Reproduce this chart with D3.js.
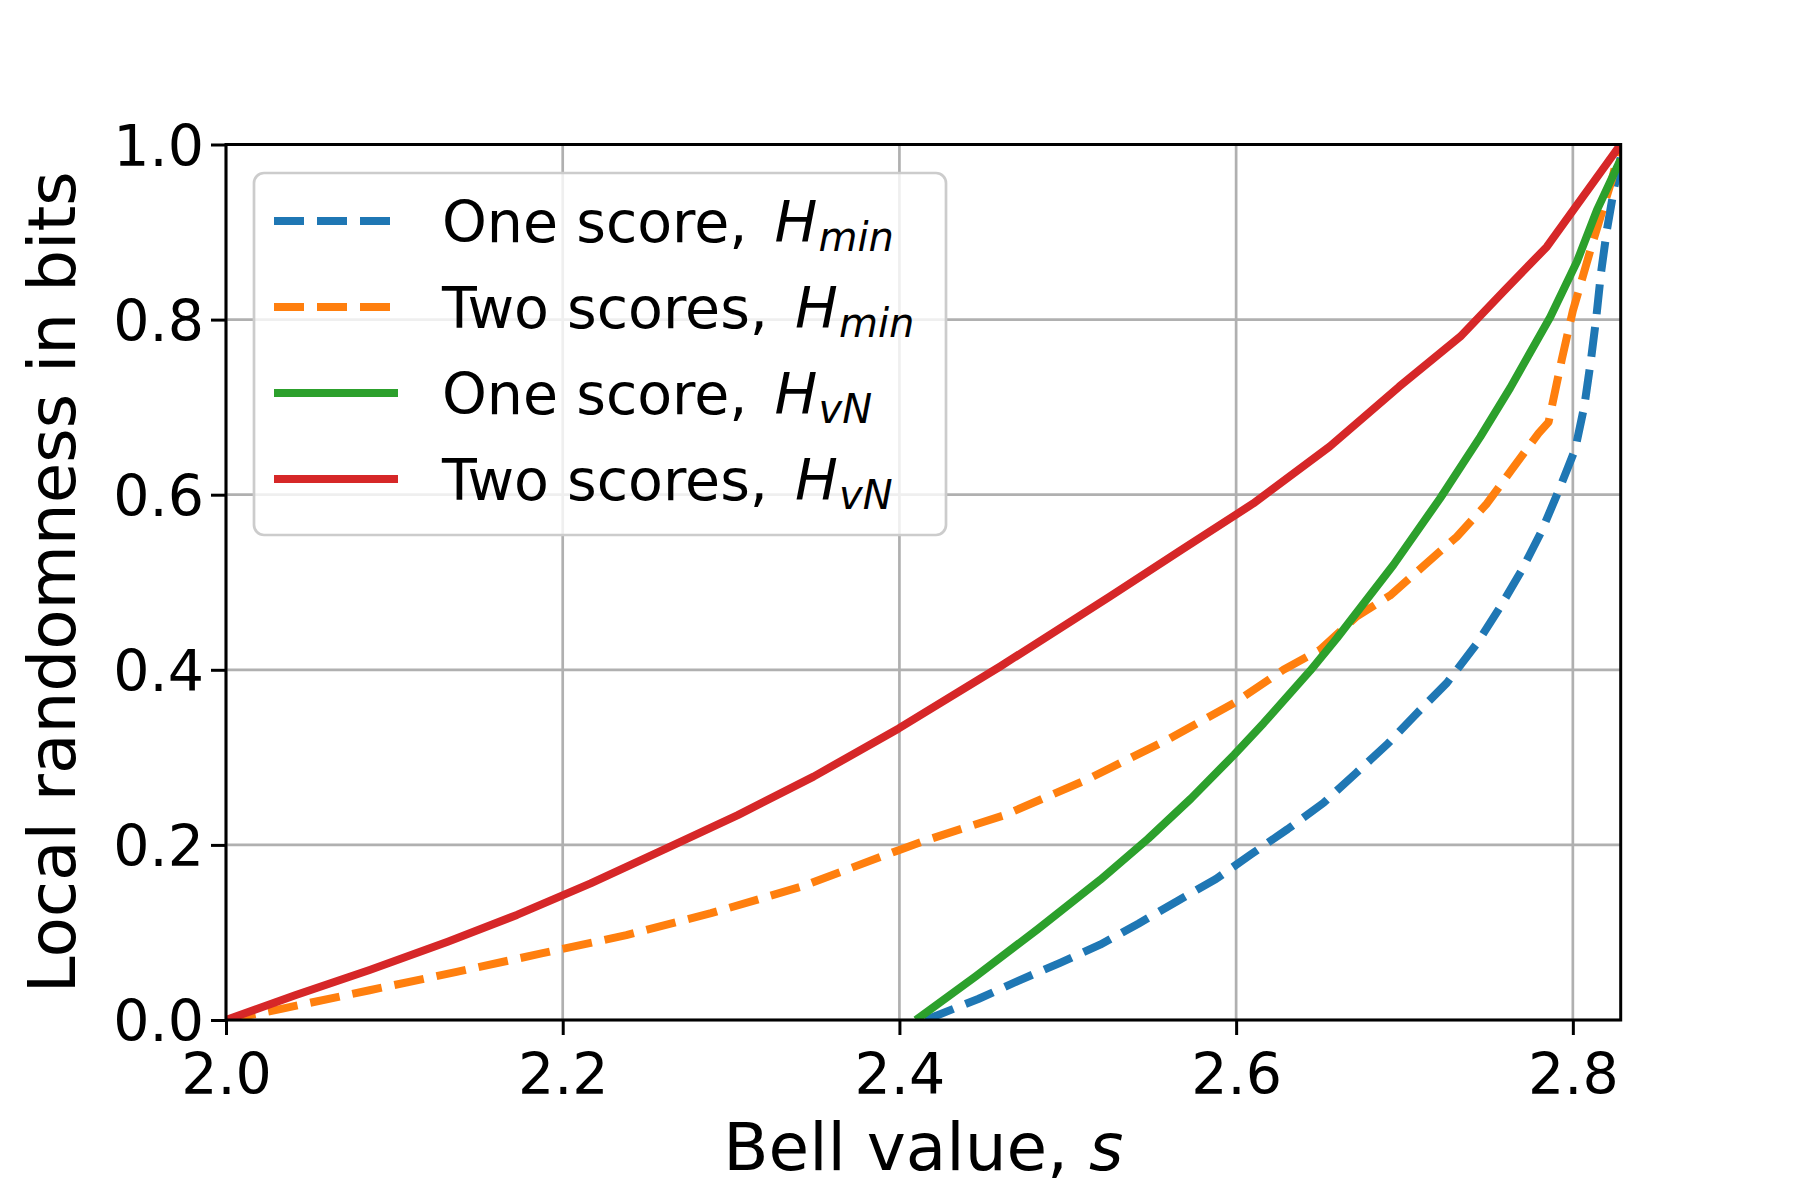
<!DOCTYPE html>
<html>
<head>
<meta charset="utf-8">
<script src="https://cdnjs.cloudflare.com/ajax/libs/d3/7.8.5/d3.min.js"></script>
<style>
  body { margin: 0; background: #fff; }
  text { font-family: "DejaVu Sans", sans-serif; white-space: pre; }
</style>
</head>
<body>
<div id="chart"></div>
<script>
(function() {
  // values, [s, bits]
  var oneScoreMin = [[2.4155,0],[2.4468,0.024],[2.4709,0.045],[2.4951,0.065],[2.5192,0.086],[2.5419,0.110],
    [2.5652,0.136],[2.588,0.161],[2.6087,0.189],[2.6306,0.218],[2.6519,0.248],[2.6712,0.282],[2.6903,0.316],
    [2.7054,0.3465],[2.7252,0.385],[2.743,0.430],[2.7569,0.472],[2.7697,0.514],[2.7816,0.559],[2.7921,0.607],
    [2.8014,0.652],[2.8068,0.701],[2.8107,0.753],[2.8139,0.802],[2.8167,0.853],[2.8202,0.902],[2.8246,0.951],
    [2.8284,0.985]]

  var twoScoresMin = [[2.0,0],[2.0336,0.013],[2.0853,0.034],[2.137,0.055],[2.1874,0.076],[2.2378,0.097],
    [2.2881,0.122],[2.3412,0.152],[2.3996,0.194],[2.4169,0.206],[2.4624,0.234],[2.5107,0.274],[2.559,0.320],
    [2.5988,0.362],[2.6281,0.400],[2.6499,0.423],[2.6717,0.461],[2.6915,0.485],[2.7133,0.522],[2.7311,0.552],
    [2.749,0.590],[2.7638,0.629],[2.7796,0.670],[2.7856,0.683],[2.7935,0.755],[2.8,0.810],[2.8113,0.885],
    [2.8232,0.960],[2.8284,1.0]]

  var oneScoreVN = [[2.4098,0],[2.4454,0.050],[2.4823,0.104],[2.5192,0.160],[2.5477,0.207],[2.5732,0.253],
    [2.5988,0.303],[2.6163,0.339],[2.644,0.399],[2.6598,0.436],[2.6935,0.520],[2.7212,0.596],[2.745,0.666],
    [2.7628,0.722],[2.7866,0.803],[2.8024,0.866],[2.8143,0.925],[2.8284,0.983]]

  var twoScoresVN = [[2.0,0],[2.0415,0.0286],[2.0853,0.0571],[2.1317,0.0894],[2.1728,0.120],[2.2166,0.156],
    [2.2616,0.196],[2.304,0.234],[2.349,0.278],[2.3996,0.333],[2.4596,0.4035],[2.5249,0.4835],[2.5675,0.537],
    [2.6102,0.590],[2.6556,0.655],[2.6968,0.7234],[2.7331,0.7805],[2.7588,0.832],[2.7846,0.8833],[2.8284,1.0]]

  var labels = ["One score, ", "Two scores, ", "One score, ", "Two scores, "]
  var subscripts = ["min", "min", "vN", "vN"]
  var xTicks = [2.0, 2.2, 2.4, 2.6, 2.8]
  var yTicks = [0.0, 0.2, 0.4, 0.6, 0.8, 1.0]

  var colors = ["#1f77b4", "#ff7f0e", "#2ca02c", "#d62728"]
  var dashed = [true, true, false, false]
  var allValues = [oneScoreMin, twoScoresMin, oneScoreVN, twoScoresVN]

  var width = 1800,
      height = 1200,
      left = 226, right = 1620.7, top = 144.5, bottom = 1020

  var svg = d3.select("#chart")
    .append("svg")
    .attr("width", width)
    .attr("height", height)

  svg.append("rect").attr("width", width).attr("height", height).attr("fill", "#fff")

  var x = d3.scaleLinear().domain([2, 2 * Math.SQRT2]).range([left, right])
  var y = d3.scaleLinear().domain([0, 1]).range([bottom, top])

  svg.append("defs").append("clipPath")
    .attr("id", "plot-clip")
    .append("rect")
    .attr("x", left).attr("y", top)
    .attr("width", right - left).attr("height", bottom - top)

  // grid
  var grid = svg.append("g")
  grid.selectAll(".gx").data(xTicks).enter().append("line")
    .attr("x1", function(d) { return x(d) }).attr("x2", function(d) { return x(d) })
    .attr("y1", top).attr("y2", bottom)
    .attr("stroke", "#b0b0b0").attr("stroke-width", 2.7)
  grid.selectAll(".gy").data(yTicks).enter().append("line")
    .attr("y1", function(d) { return y(d) }).attr("y2", function(d) { return y(d) })
    .attr("x1", left).attr("x2", right)
    .attr("stroke", "#b0b0b0").attr("stroke-width", 2.7)

  var line = d3.line()
    .x(function(d) { return x(d[0]) })
    .y(function(d) { return y(d[1]) })

  svg.append("g")
    .attr("clip-path", "url(#plot-clip)")
    .selectAll("path")
    .data(allValues)
    .enter().append("path")
    .attr("d", line)
    .attr("fill", "none")
    .attr("stroke", function(d, i) { return colors[i] })
    .attr("stroke-width", 8)
    .attr("stroke-linejoin", "round")
    .attr("stroke-dasharray", function(d, i) { return dashed[i] ? "30,13" : null })

  // axes
  var xAxis = svg.append("g")
    .attr("transform", "translate(0," + bottom + ")")
    .call(d3.axisBottom(x).tickValues(xTicks).tickSize(15).tickPadding(19).tickFormat(d3.format(".1f")))
  var yAxis = svg.append("g")
    .attr("transform", "translate(" + left + ",0)")
    .call(d3.axisLeft(y).tickValues(yTicks).tickSize(15).tickPadding(7).tickFormat(d3.format(".1f")))

  ;[xAxis, yAxis].forEach(function(a) {
    a.select(".domain").remove()
    a.selectAll(".tick line").attr("stroke", "#000").attr("stroke-width", 3)
    a.selectAll(".tick text")
      .attr("font-size", 57)
      .attr("font-family", "DejaVu Sans")
      .attr("fill", "#000")
  })
  yAxis.selectAll(".tick text").attr("dy", "0.36em")

  svg.append("rect")
    .attr("x", left).attr("y", top)
    .attr("width", right - left).attr("height", bottom - top)
    .attr("fill", "none").attr("stroke", "#000").attr("stroke-width", 3)

  var xLabel = svg.append("text")
    .attr("x", (left + right) / 2).attr("y", 1170)
    .attr("text-anchor", "middle").attr("font-size", 66)
  xLabel.append("tspan").text("Bell value, ")
  xLabel.append("tspan").attr("font-style", "italic").text("s")

  svg.append("text")
    .attr("transform", "translate(75," + (top + bottom) / 2 + ") rotate(-90)")
    .attr("text-anchor", "middle").attr("font-size", 66)
    .text("Local randomness in bits")

  // legend
  var legend = svg.append("g")
  legend.append("rect")
    .attr("x", 254).attr("y", 173).attr("width", 692).attr("height", 362)
    .attr("rx", 10).attr("ry", 10)
    .attr("fill", "#fff").attr("fill-opacity", 0.8)
    .attr("stroke", "#cccccc").attr("stroke-width", 2.7)

  var rows = legend.selectAll(".row")
    .data(labels)
    .enter().append("g")
    .attr("class", "row")
    .attr("transform", function(d, i) { return "translate(0," + (221 + i * 86) + ")" })

  rows.append("line")
    .attr("x1", 274).attr("x2", 398)
    .attr("stroke", function(d, i) { return colors[i] })
    .attr("stroke-width", 8)
    .attr("stroke-dasharray", function(d, i) { return dashed[i] ? "30,13" : null })

  var rowText = rows.append("text")
    .attr("x", 442).attr("y", 21)
    .attr("font-size", 57)
  rowText.append("tspan").text(function(d) { return d })
  rowText.append("tspan").attr("font-style", "italic").attr("dx", 9).text("H")
  rowText.append("tspan")
    .attr("font-style", "italic").attr("font-size", 40).attr("dy", 9).attr("dx", 1)
    .text(function(d, i) { return subscripts[i] })
})();
</script>
</body>
</html>
